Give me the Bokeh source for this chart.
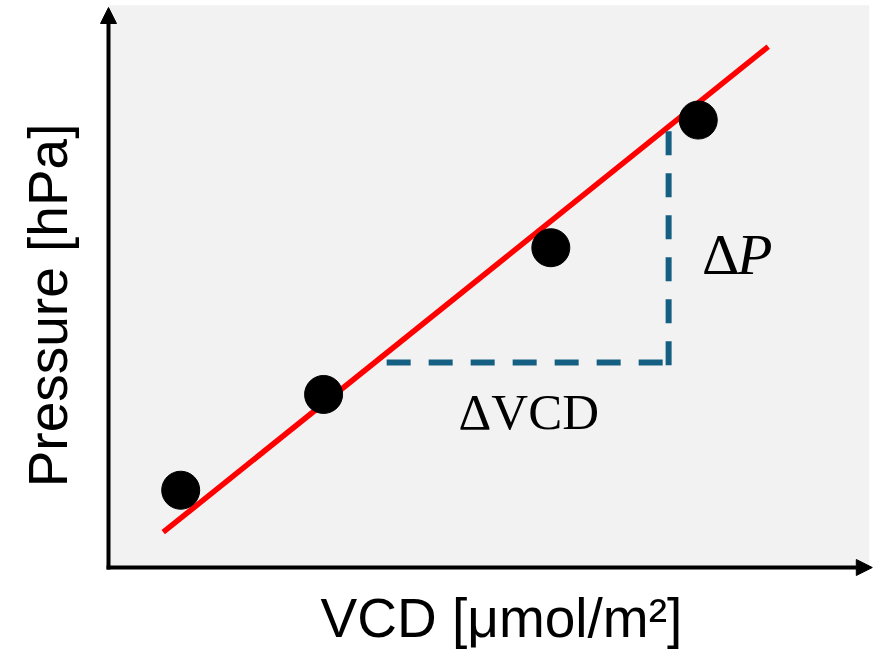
from bokeh.plotting import figure
from bokeh.models import Range1d, Arrow, NormalHead, Label
from bokeh.embed import file_html
from bokeh.resources import INLINE

# --- data (arbitrary units) ---
vcd = [0.95, 2.83, 5.82, 7.76]
pressure = [1.38, 3.09, 5.71, 7.99]

fit_vcd = [0.72, 8.68]
fit_pressure = [0.63, 9.30]

dvcd_x = [3.66, 7.37]
dvcd_y = [3.66, 3.66]
dp_x = [7.37, 7.37]
dp_y = [3.61, 7.88]

x_label = "VCD [μmol/m²]"
y_label = "Pressure [hPa]"

p = figure(width=885, height=653, output_backend="svg", toolbar_location=None,
           x_range=Range1d(-1.4211, 10.2237), y_range=Range1d(-1.5357, 10.125),
           x_axis_location=None, y_axis_location=None, title_location=None,
           min_border=0, outline_line_color=None,
           background_fill_color="white", border_fill_color="white")
p.xgrid.visible = False
p.ygrid.visible = False

# plot-area background
p.quad(left=0.0, right=10.01, bottom=0.0, top=10.04,
       fill_color="#F2F2F2", line_color=None)

# fitted line
p.line(fit_vcd, fit_pressure, line_color="#FF0000", line_width=5.5)

# delta guides
p.line(dvcd_x, dvcd_y, line_color="#156082", line_width=6, line_dash="24 18")
p.line(dp_x, dp_y, line_color="#156082", line_width=6, line_dash="24 18")

# measurements
p.scatter(vcd, pressure, size=38, fill_color="black", line_color="black")

# axes with arrow heads
p.add_layout(Arrow(end=NormalHead(size=16, fill_color="black", line_color="black", line_width=1),
                   x_start=0.0, y_start=-0.035, x_end=0.0, y_end=10.0,
                   line_color="black", line_width=4))
p.add_layout(Arrow(end=NormalHead(size=16, fill_color="black", line_color="black", line_width=1),
                   x_start=-0.025, y_start=0.0, x_end=10.05, y_end=0.0,
                   line_color="black", line_width=4))

# annotations
p.add_layout(Label(x=5.53, y=2.77, text="ΔVCD", text_align="center",
                   text_baseline="alphabetic", text_font="Liberation Serif",
                   text_font_size="51px", text_color="black"))
p.add_layout(Label(x=7.81, y=5.585, text="Δ", text_align="left",
                   text_baseline="alphabetic", text_font="Liberation Serif",
                   text_font_size="58px", text_color="black"))
p.add_layout(Label(x=8.27, y=5.585, text="P", text_align="left",
                   text_baseline="alphabetic", text_font="Liberation Serif",
                   text_font_style="italic",
                   text_font_size="58px", text_color="black"))

# axis titles
p.add_layout(Label(x=5.17, y=-0.90, text=x_label, text_align="center",
                   text_baseline="alphabetic", text_font="Liberation Sans",
                   text_font_size="55px", text_color="black"))
p.add_layout(Label(x=-0.80, y=4.68, text=y_label, text_align="center",
                   text_baseline="alphabetic", text_font="Liberation Sans",
                   text_font_size="55px", text_color="black", angle=1.5708))

open("out.html", "w").write(file_html(p, INLINE))
